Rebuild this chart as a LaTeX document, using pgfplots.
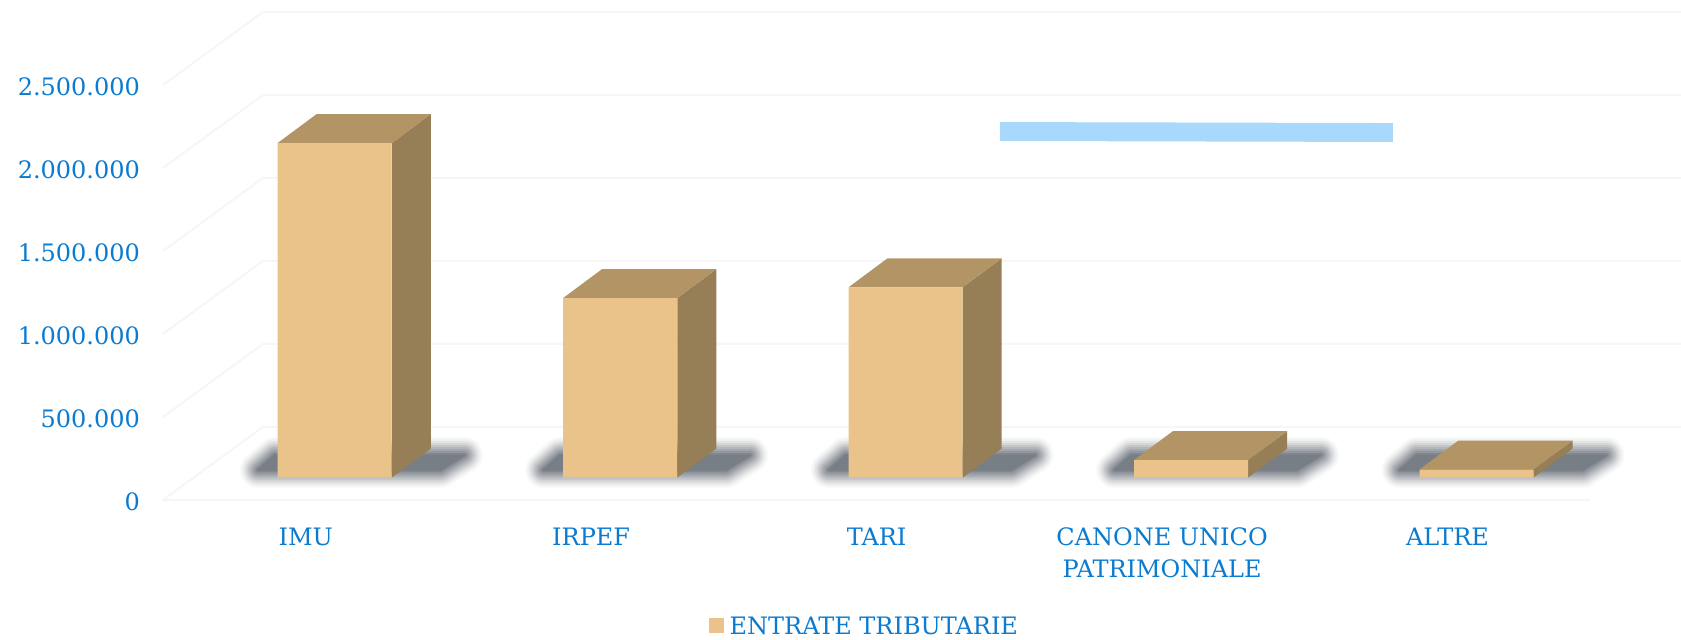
\documentclass[border=0pt]{standalone}
\usepackage{fontspec}
\usepackage{pgfplots}
\pgfplotsset{compat=1.18}
\setmainfont{DejaVu Serif}
\definecolor{txt}{HTML}{0A7BD0}
\definecolor{front}{HTML}{E9C389}
\definecolor{topf}{HTML}{B39465}
\definecolor{side}{HTML}{967E57}
\definecolor{gridc}{HTML}{F6F6F6}
\definecolor{blueb}{HTML}{A8D8FB}
\definecolor{shc}{HTML}{787E86}
\pgfplotsset{
  wall/.style={draw=gridc,line width=1pt,forget plot,no markers,line join=round},
  facet/.style={draw=none,forget plot,no markers,xshift=14.5pt,yshift=11.25pt}
}
\newcommand\shadowlayer[6]{%
  \addplot[fill=shc!#6!white,draw=shc!#6!white,line join=round,forget plot,no markers,line width=#5pt]
    coordinates {(#1,180723)(#2,180723)(#3,271084)(#4,271084)} --cycle;
}
\newcommand\shadowbar[4]{%
  \shadowlayer{#1}{#2}{#3}{#4}{18}{5}
  \shadowlayer{#1}{#2}{#3}{#4}{16}{12}
  \shadowlayer{#1}{#2}{#3}{#4}{14}{21}
  \shadowlayer{#1}{#2}{#3}{#4}{12}{32}
  \shadowlayer{#1}{#2}{#3}{#4}{10}{44}
  \shadowlayer{#1}{#2}{#3}{#4}{8}{56}
  \shadowlayer{#1}{#2}{#3}{#4}{6}{68}
  \shadowlayer{#1}{#2}{#3}{#4}{4}{80}
  \shadowlayer{#1}{#2}{#3}{#4}{2}{92}
  \shadowlayer{#1}{#2}{#3}{#4}{0.5}{100}
}
\begin{document}
\begin{tikzpicture}
\useasboundingbox (0,0) rectangle (840.5pt,319.5pt);
\begin{axis}[
  at={(81.5pt,69.5pt)},anchor=south west,
  scale only axis,width=759pt,height=244pt,
  xmin=-0.5,xmax=4.818,ymin=0,ymax=2940000,
  clip=false,
  axis line style={draw=none},
  major tick length=0pt,
  xtick={0,1,2,3,4},
  xticklabels={IMU,IRPEF,TARI,{CANONE UNICO\\PATRIMONIALE},ALTRE},
  ytick={0,500000,1000000,1500000,2000000,2500000},
  yticklabels={0,500.000,1.000.000,1.500.000,2.000.000,2.500.000},
  scaled y ticks=false,
  tick label style={font=\fontsize{12}{16}\selectfont,text=txt},
  xticklabel style={align=center,anchor=north,yshift=-10.4pt},
  yticklabel style={xshift=-8pt,yshift=-1pt},
  legend style={at={(axis cs:1.9535,-765000)},anchor=center,draw=none,fill=none,
    font=\fontsize{12}{15.5}\selectfont,text=txt,inner sep=0pt},
  legend image code/.code={},
]
% walls and floor
\addplot[wall] coordinates {(4.5,0)(-0.5,0)(-0.15,440000)(4.818,440000)};
\addplot[wall] coordinates {(-0.5,500000)(-0.15,940000)(4.818,940000)};
\addplot[wall] coordinates {(-0.5,1000000)(-0.15,1440000)(4.818,1440000)};
\addplot[wall] coordinates {(-0.5,1500000)(-0.15,1940000)(4.818,1940000)};
\addplot[wall] coordinates {(-0.5,2000000)(-0.15,2440000)(4.818,2440000)};
\addplot[wall] coordinates {(-0.5,2500000)(-0.15,2940000)(4.818,2940000)};
% soft shadows
\shadowbar{-0.1682}{0.4730}{0.5571}{-0.1086}
\shadowbar{0.8318}{1.4730}{1.5571}{0.8914}
\shadowbar{1.8318}{2.4730}{2.5571}{1.8914}
\shadowbar{2.8318}{3.4730}{3.5571}{2.8914}
\shadowbar{3.8318}{4.4730}{4.5571}{3.8914}
% side faces
\addplot[facet,fill=side] coordinates {(0.2,0)(0.2,2015000)(0.3367,2189700)(0.3367,174700)} --cycle;
\addplot[facet,fill=side] coordinates {(1.2,0)(1.2,1081000)(1.3367,1255700)(1.3367,174700)} --cycle;
\addplot[facet,fill=side] coordinates {(2.2,0)(2.2,1146000)(2.3367,1320700)(2.3367,174700)} --cycle;
\addplot[facet,fill=side] coordinates {(3.2,0)(3.2,105000)(3.3367,279700)(3.3367,174700)} --cycle;
\addplot[facet,fill=side] coordinates {(4.2,0)(4.2,48000)(4.3367,222700)(4.3367,174700)} --cycle;
% top faces
\addplot[facet,fill=topf] coordinates {(-0.2,2015000)(0.2,2015000)(0.3367,2189700)(-0.0633,2189700)} --cycle;
\addplot[facet,fill=topf] coordinates {(0.8,1081000)(1.2,1081000)(1.3367,1255700)(0.9367,1255700)} --cycle;
\addplot[facet,fill=topf] coordinates {(1.8,1146000)(2.2,1146000)(2.3367,1320700)(1.9367,1320700)} --cycle;
\addplot[facet,fill=topf] coordinates {(2.8,105000)(3.2,105000)(3.3367,279700)(2.9367,279700)} --cycle;
\addplot[facet,fill=topf] coordinates {(3.8,48000)(4.2,48000)(4.3367,222700)(3.9367,222700)} --cycle;
% front faces
\addplot[ybar,bar shift=0pt,bar width=57pt,fill=front,draw=none,xshift=14.5pt,yshift=11.25pt] coordinates {
  (0,2015000)(1,1081000)(2,1146000)(3,105000)(4,48000)};
\addlegendentry{\textcolor{front}{\raisebox{0.6pt}{\rule{7.5pt}{7.5pt}}}\hspace{3pt}ENTRATE TRIBUTARIE}
% pale blue band
\addplot[fill=blueb,draw=none,forget plot,no markers] coordinates {(2.4317,2277000)(3.8087,2271000)(3.8087,2157000)(2.4317,2163000)} --cycle;
\end{axis}
\end{tikzpicture}
\end{document}
